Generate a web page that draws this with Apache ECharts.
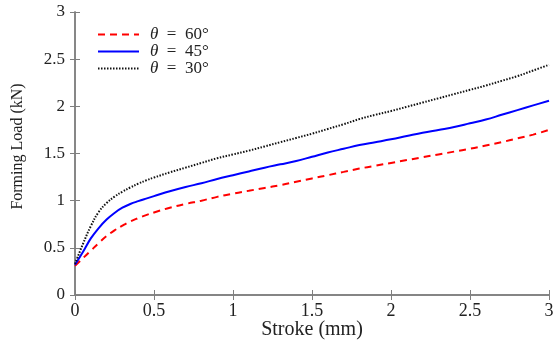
<!DOCTYPE html>
<html>
<head>
<meta charset="utf-8">
<script src="https://cdn.jsdelivr.net/npm/echarts@6/dist/echarts.min.js"></script>
<style>
html,body{margin:0;padding:0;background:#fff;}
#c{width:553px;height:341px;}
</style>
</head>
<body>
<div id="c"></div>
<script>
var strokeX = [0, 0.05, 0.1, 0.15, 0.2, 0.25, 0.3, 0.35, 0.4, 0.45, 0.5, 0.6, 0.7, 0.8, 0.9, 1.0, 1.1, 1.2, 1.3, 1.4, 1.5, 1.6, 1.7, 1.8, 1.9, 2.0, 2.1, 2.2, 2.3, 2.4, 2.5, 2.6, 2.7, 2.8, 2.9, 3.0];
var load60 = [0.31, 0.39, 0.47, 0.55, 0.625, 0.685, 0.735, 0.78, 0.815, 0.847, 0.875, 0.925, 0.965, 1.00, 1.04, 1.075, 1.105, 1.135, 1.165, 1.20, 1.235, 1.27, 1.305, 1.34, 1.37, 1.40, 1.43, 1.46, 1.49, 1.52, 1.55, 1.585, 1.62, 1.66, 1.70, 1.75];
var load45 = [0.32, 0.455, 0.60, 0.71, 0.80, 0.87, 0.925, 0.965, 0.995, 1.022, 1.048, 1.10, 1.145, 1.185, 1.23, 1.27, 1.31, 1.35, 1.385, 1.42, 1.465, 1.51, 1.55, 1.59, 1.62, 1.65, 1.685, 1.72, 1.75, 1.78, 1.82, 1.86, 1.91, 1.96, 2.01, 2.06];
var load30 = [0.33, 0.54, 0.73, 0.88, 0.975, 1.043, 1.095, 1.14, 1.18, 1.215, 1.245, 1.30, 1.35, 1.40, 1.45, 1.49, 1.53, 1.575, 1.62, 1.665, 1.71, 1.76, 1.81, 1.865, 1.91, 1.95, 1.995, 2.04, 2.085, 2.13, 2.175, 2.22, 2.27, 2.32, 2.38, 2.44];
var seriesNames = ['θ = 60°', 'θ = 45°', 'θ = 30°'];
var xLabel = 'Stroke (mm)';
var yLabel = 'Forming Load (kN)';

function pairs(ys) { return strokeX.map(function (x, i) { return [x, ys[i]]; }); }

var serif = 'Liberation Serif';
var axisColor = '#7f7f7f';
var txt = '#222';
var chart = echarts.init(document.getElementById('c'), null, { renderer: 'canvas' });
var baseAxis = {
  min: 0, max: 3, interval: 0.5,
  axisLine: { show: true, lineStyle: { color: axisColor, width: 1.5 } },
  axisTick: { show: true, inside: true, length: 5, lineStyle: { color: axisColor, width: 1 } },
  splitLine: { show: false }
};
chart.setOption({
  animation: false,
  grid: { left: 75, right: 4, top: 12, bottom: 46, containLabel: false, outerBoundsMode: 'none' },
  legend: {
    left: 92, top: 21, orient: 'vertical',
    itemWidth: 41, itemHeight: 18, itemGap: 0,
    data: seriesNames,
    itemStyle: { opacity: 0 },
    formatter: function (n) { return '{i|θ}\u2002=\u2002' + n.split('= ')[1]; },
    textStyle: {
      fontFamily: serif, fontSize: 17, color: txt, padding: [0, 0, 0, 6],
      rich: { i: { fontFamily: serif, fontStyle: 'italic', fontSize: 17, color: txt } }
    }
  },
  xAxis: [
    Object.assign({}, baseAxis, {
      type: 'value', position: 'bottom',
      name: xLabel, nameLocation: 'middle', nameGap: 25, nameMoveOverlap: false,
      nameTextStyle: { fontFamily: serif, fontSize: 20, color: txt },
      axisLabel: { fontFamily: serif, fontSize: 18, color: txt, margin: 7 }
    }),
    Object.assign({}, baseAxis, { type: 'value', position: 'top', axisLabel: { show: false } })
  ],
  yAxis: [
    Object.assign({}, baseAxis, {
      type: 'value', position: 'left',
      name: yLabel, nameLocation: 'middle', nameGap: 49, nameMoveOverlap: false,
      nameTextStyle: { fontFamily: serif, fontSize: 16, color: txt, padding: [0, 0, 0, 14] },
      axisLabel: { fontFamily: serif, fontSize: 17, color: txt, margin: 10 }
    }),
    Object.assign({}, baseAxis, { type: 'value', position: 'right', axisLabel: { show: false } })
  ],
  series: [
    { name: seriesNames[0], type: 'line', data: pairs(load60), smooth: 0.4, symbol: 'none',
      lineStyle: { color: '#ff0000', width: 2, type: [7, 5] }, itemStyle: { color: '#ff0000' } },
    { name: seriesNames[1], type: 'line', data: pairs(load45), smooth: 0.4, symbol: 'none',
      lineStyle: { color: '#0000ff', width: 2, type: 'solid' }, itemStyle: { color: '#0000ff' } },
    { name: seriesNames[2], type: 'line', data: pairs(load30), smooth: 0.4, symbol: 'none',
      lineStyle: { color: '#111111', width: 2, type: [1.5, 1.5] }, itemStyle: { color: '#111111' } }
  ]
});
</script>
</body>
</html>
